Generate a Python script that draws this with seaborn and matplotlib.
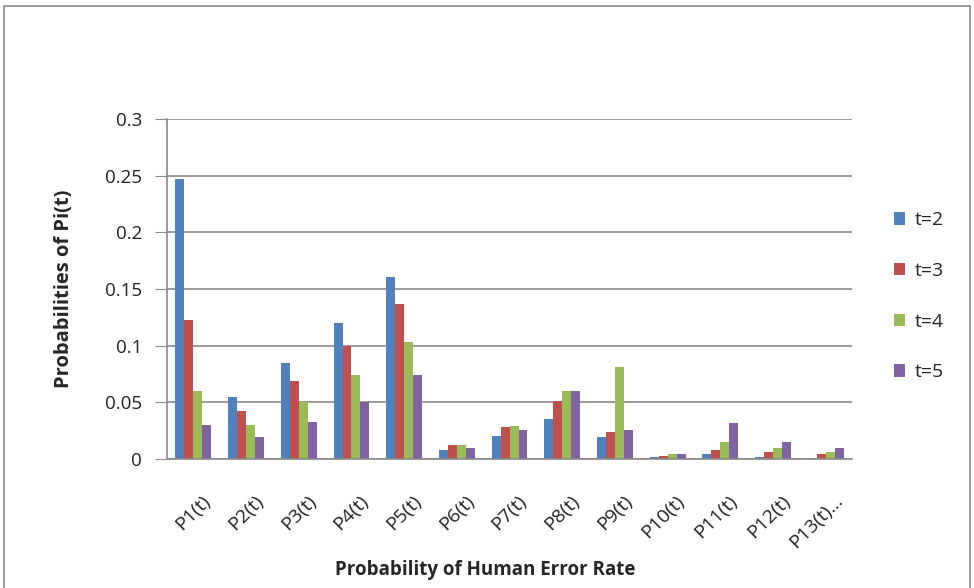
import pandas as pd
import matplotlib
matplotlib.use("Agg")
import matplotlib.pyplot as plt
import matplotlib.transforms as mtransforms
import seaborn as sns
from matplotlib.patches import Rectangle
from matplotlib.ticker import FuncFormatter

# data
categories = ['P1(t)', 'P2(t)', 'P3(t)', 'P4(t)', 'P5(t)', 'P6(t)', 'P7(t)',
              'P8(t)', 'P9(t)', 'P10(t)', 'P11(t)', 'P12(t)', 'P13(t)...']
series_names = ['t=2', 't=3', 't=4', 't=5']
t2 = [0.247, 0.055, 0.085, 0.120, 0.161, 0.008, 0.020, 0.035, 0.019, 0.002, 0.004, 0.002, 0.001]
t3 = [0.123, 0.042, 0.069, 0.100, 0.137, 0.012, 0.028, 0.051, 0.024, 0.003, 0.008, 0.006, 0.004]
t4 = [0.060, 0.030, 0.050, 0.074, 0.103, 0.012, 0.029, 0.060, 0.081, 0.004, 0.015, 0.010, 0.006]
t5 = [0.030, 0.019, 0.033, 0.050, 0.074, 0.010, 0.026, 0.060, 0.026, 0.004, 0.032, 0.015, 0.010]
colors = ['#4F81BD', '#C0504D', '#9BBB59', '#8064A2']

rows = []
for name, vals in zip(series_names, [t2, t3, t4, t5]):
    for cat, v in zip(categories, vals):
        rows.append({'cat': cat, 'series': name, 'value': v})
df = pd.DataFrame(rows)

sns.set_style("white")
plt.rcParams['font.family'] = ['Open Sans', 'DejaVu Sans']

fig = plt.figure(figsize=(9.74, 5.88), dpi=100)
ax = fig.add_axes([0.1715, 0.2194, 0.7033, 0.5782])

sns.barplot(data=df, x='cat', y='value', hue='series', order=categories,
            hue_order=series_names, palette=colors, width=0.68,
            saturation=1, linewidth=0, edgecolor='none', ax=ax, zorder=3)

ax.set_ylim(0, 0.3)
ax.set_yticks([0, 0.05, 0.1, 0.15, 0.2, 0.25, 0.3])
ax.yaxis.set_major_formatter(FuncFormatter(lambda v, p: '0' if v == 0 else f'{v:g}'))
ax.yaxis.grid(True, color='#8a8a8a', linewidth=1.2, zorder=0)
ax.set_axisbelow(True)
ax.set_xlim(-0.5, len(categories) - 0.5)

for s in ['top', 'right']:
    ax.spines[s].set_visible(False)
for s in ['left', 'bottom']:
    ax.spines[s].set_color('#8a8a8a')
    ax.spines[s].set_linewidth(1.2)
    ax.spines[s].set_zorder(4)

ax.tick_params(axis='y', left=True, length=9, color='#8a8a8a', labelsize=13.5,
               pad=9, labelcolor='#222222')
ax.tick_params(axis='x', bottom=False, labelsize=14, pad=20, labelcolor='#222222')
shift = mtransforms.ScaledTranslation(8 / 100, 0, fig.dpi_scale_trans)
for lbl in ax.get_xticklabels():
    lbl.set_rotation(45)
    lbl.set_ha('right')
    lbl.set_rotation_mode('anchor')
    lbl.set_transform(lbl.get_transform() + shift)

ax.set_xlabel('Probability of Human Error Rate', fontsize=13.5, fontweight='bold')
ax.xaxis.set_label_coords(0.464, -0.326)
ax.xaxis.label.set_va('center')
ax.set_ylabel('Probabilities of Pi(t)', fontsize=14.5, fontweight='bold')
ax.yaxis.set_label_coords(-0.15, 0.5)
ax.yaxis.label.set_va('center')

ax.legend(loc='center left', bbox_to_anchor=(1.035, 0.478), frameon=False,
          fontsize=14, labelspacing=1.68, handlelength=0.6, handleheight=0.6,
          handletextpad=0.5, title=None)

fig.patches.append(Rectangle((4 / 974, -0.01), 966 / 974, 1 - 6 / 588 + 0.01,
                             transform=fig.transFigure, fill=False,
                             edgecolor='#8a8a8a', linewidth=1.2))

plt.savefig('out.png', dpi=100)
